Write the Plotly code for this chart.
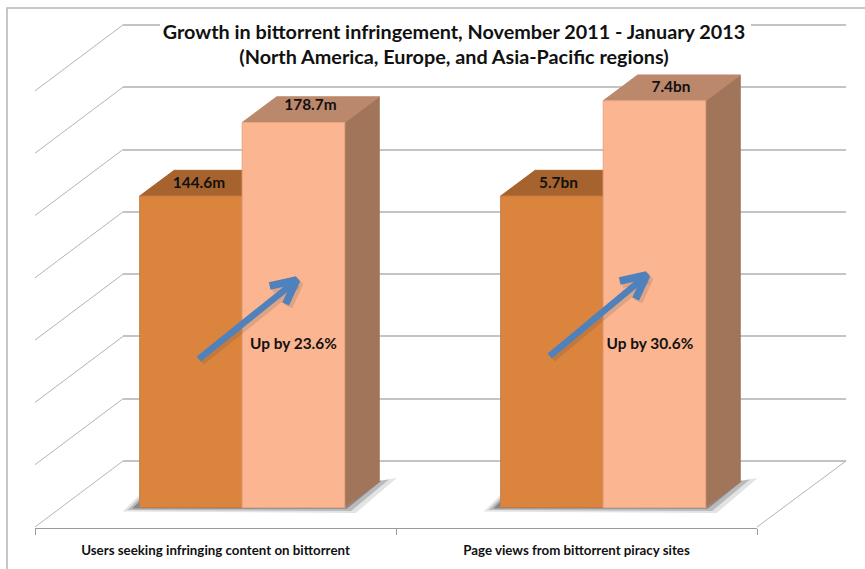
import plotly.graph_objects as go

W, H = 865, 569

# ---- data ----
categories = ["Users seeking infringing content on bittorrent", "Page views from bittorrent piracy sites"]
index_2011 = [100, 100]
growth_pct = [23.6, 30.6]
index_2013 = [100 + g for g in growth_pct]
labels_2011 = ["144.6m", "5.7bn"]
labels_2013 = ["178.7m", "7.4bn"]
wall_ticks = [0, 20, 40, 60, 80, 100, 120, 140]
title_lines = ["Growth in bittorrent infringement, November 2011 - January 2013",
               "(North America, Europe, and Asia-Pacific regions)"]

# ---- style / scene geometry ----
FONT = "Lato"
C1, C1_TOP, C1_SIDE = "#DB843D", "#A6632E", "#A6632E"
C2, C2_TOP, C2_SIDE = "#FBB590", "#BC886B", "#A0755A"
GRID = "#C4C4C4"
DIAG = "#B4B4B4"
UNIT_X, UNIT_Y = 361.0, 3.115          # pixels per category / per index point
ORG_X, ORG_Y = 61.7, 507.5             # pixel position of the bar-plane origin
GAP = 0.432
BAR_W = (1 - GAP) / 2
BAR_DX, BAR_DY = 34.5, 25.7            # bar depth in pixels
WALL_BACK_X, WALL_BACK_Y = 123.0, 461.0
WALL_FRONT_X, WALL_FRONT_Y = 35.0, 527.0
WALL_RIGHT_BACK_X, WALL_RIGHT_FRONT_X = 846.0, 757.0
WALL_PAD = 2                           # index points of spare axis beyond the wall ticks


def ux(px):
    return (px - ORG_X) / UNIT_X


def uy(py):
    return (ORG_Y - py) / UNIT_Y


def px_poly(points):
    return [ux(p[0]) for p in points], [uy(p[1]) for p in points]


x_range = [ux(0), ux(W)]
y_range = [uy(H), uy(0)]

fig = go.Figure()

# --- scene subplot: side wall diagonals, floor edge, shadows, bar depth faces (x3/y3)
def add_scene(xs, ys, **kw):
    fig.add_trace(go.Scatter(x=xs, y=ys, xaxis="x3", yaxis="y3", showlegend=False,
                             hoverinfo="skip", **kw))


for t in wall_ticks:
    yb = WALL_BACK_Y - t * UNIT_Y
    xs, ys = px_poly([(WALL_BACK_X, yb), (WALL_FRONT_X, yb + WALL_FRONT_Y - WALL_BACK_Y)])
    add_scene(xs, ys, mode="lines", line=dict(color=DIAG, width=1))
xs, ys = px_poly([(WALL_RIGHT_BACK_X, WALL_BACK_Y), (WALL_RIGHT_FRONT_X, WALL_FRONT_Y)])
add_scene(xs, ys, mode="lines", line=dict(color=DIAG, width=1))

centers = [i + 0.5 for i in range(len(categories))]

# shadows on the floor
for c in centers:
    L = ORG_X + (c - BAR_W) * UNIT_X
    R = ORG_X + (c + BAR_W) * UNIT_X
    for inset, alpha in [(0, 0.14), (3, 0.24), (6, 0.40)]:
        poly = [(L - 17 + inset * 1.6, 511.5 - inset * 0.5), (L, 495 + inset), (L, 508), (R, 508),
                (R + 34, 481), (R + 52 - inset * 2.5, 478 + inset * 0.4),
                (R + 11 - inset * 1.5, 513 - inset * 0.7), (L - 17 + inset * 1.6, 511.5 - inset * 0.5)]
        xs, ys = px_poly(poly)
        add_scene(xs, ys, mode="lines", line=dict(width=0), fill="toself",
                  fillcolor=f"rgba(60,60,60,{alpha})")

# depth faces of the bars
du, dv = BAR_DX / UNIT_X, BAR_DY / UNIT_Y
for vals, off, top_col, side_col in [(index_2011, -BAR_W, C1_TOP, C1_SIDE),
                                     (index_2013, 0.0, C2_TOP, C2_SIDE)]:
    for c, v in zip(centers, vals):
        x0, x1 = c + off, c + off + BAR_W
        add_scene([x1, x1 + du, x1 + du, x1, x1], [0, dv, v + dv, v, 0], mode="lines",
                  line=dict(color=side_col, width=1), fill="toself", fillcolor=side_col)
        add_scene([x0, x1, x1 + du, x0 + du, x0], [v, v, v + dv, v + dv, v], mode="lines",
                  line=dict(color=top_col, width=1), fill="toself", fillcolor=top_col)

# --- front faces (x4/y4)
fig.add_trace(go.Bar(name="November 2011", x=centers, y=index_2011, xaxis="x4", yaxis="y4",
                     marker=dict(color=C1, line=dict(color="#C27A45", width=1)), showlegend=False))
fig.add_trace(go.Bar(name="January 2013", x=centers, y=index_2013, xaxis="x4", yaxis="y4",
                     marker=dict(color=C2, line=dict(color="#E9A582", width=1)), showlegend=False))

# data labels on the top faces
label_font = dict(family=FONT, size=15.4, color="#111111", weight="bold")
off_low = [8.0, 6.5]
off_high = [17.0, 16.5]
lift_high = [16.5, 12.5]
fig.add_trace(go.Scatter(
    x=[c - BAR_W / 2 + o / UNIT_X for c, o in zip(centers, off_low)],
    y=[v + 12 / UNIT_Y for v in index_2011], text=labels_2011, mode="text",
    textfont=label_font, xaxis="x4", yaxis="y4", showlegend=False, cliponaxis=False))
fig.add_trace(go.Scatter(
    x=[c + BAR_W / 2 + o / UNIT_X for c, o in zip(centers, off_high)],
    y=[v + l / UNIT_Y for v, l in zip(index_2013, lift_high)], text=labels_2013, mode="text",
    textfont=label_font, xaxis="x4", yaxis="y4", showlegend=False, cliponaxis=False))

# growth arrows and captions
arrow_start = [(59, 359), (49, 356)]
arrow_tip = [(161, 277), (150, 272)]
for c, st, tp in zip(centers, arrow_start, arrow_tip):
    L = ORG_X + (c - BAR_W) * UNIT_X
    sx, sy = L + st[0], st[1]
    tx, ty = L + tp[0], tp[1]
    for off, col, w1, w2 in [(2.5, "rgba(70,70,70,0.16)", 8, 9), (0, "#4F81BD", 6.5, 7.5)]:
        for pts, w in (([(sx, sy), (tx - 6, ty + 5)], w1),
                       ([(tx - 31, ty + 9), (tx - 4, ty + 3), (tx - 15, ty + 27)], w2)):
            xs, ys = px_poly([(a + off, b + off) for a, b in pts])
            fig.add_trace(go.Scatter(x=xs, y=ys, mode="lines", xaxis="x4", yaxis="y4", showlegend=False,
                                     hoverinfo="skip",
                                     line=dict(color=col, width=w, simplify=False)))

caption_offsets = [0.0, -4.5]
fig.add_trace(go.Scatter(
    x=[c + BAR_W / 2 + o / UNIT_X for c, o in zip(centers, caption_offsets)],
    y=[uy(345)] * 2, text=[f"Up by {g}%" for g in growth_pct], mode="text",
    textfont=dict(family=FONT, size=15.4, color="#111111", weight="bold"),
    xaxis="x4", yaxis="y4", showlegend=False))

# --- invisible carriers so that the wall and front axis exist
fig.add_trace(go.Scatter(x=[0, 2], y=[0, 140], mode="markers", marker=dict(opacity=0),
                         xaxis="x", yaxis="y", showlegend=False, hoverinfo="skip"))
fig.add_trace(go.Scatter(x=[0, 2], y=[0, 1], mode="markers", marker=dict(opacity=0),
                         xaxis="x2", yaxis="y2", showlegend=False, hoverinfo="skip"))

hidden = dict(showgrid=False, zeroline=False, showticklabels=False, ticks="", showline=False)
wall_lo = -WALL_PAD
wall_hi = wall_ticks[-1] + WALL_PAD
fig.update_layout(
    width=W, height=H, autosize=False,
    margin=dict(l=0, r=0, t=0, b=0),
    paper_bgcolor="white", plot_bgcolor="rgba(0,0,0,0)",
    barmode="group", bargap=GAP, bargroupgap=0,
    showlegend=False,
    title=dict(text="<br>".join(title_lines), x=(163 + 745) / 2 / W, xanchor="center",
               y=1 - 38.5 / H, yanchor="middle",
               font=dict(family=FONT, size=19.8, color="#111111", weight="bold")),
    # back wall
    xaxis=dict(domain=[WALL_BACK_X / W, WALL_RIGHT_BACK_X / W], range=[0, 2], anchor="y", **hidden),
    yaxis=dict(domain=[1 - (WALL_BACK_Y - wall_lo * UNIT_Y) / H, 1 - (WALL_BACK_Y - wall_hi * UNIT_Y) / H],
               range=[wall_lo, wall_hi], anchor="x",
               showgrid=True, gridcolor=GRID, gridwidth=1.6, tickmode="array", tickvals=wall_ticks,
               zeroline=False, showticklabels=False, ticks="", showline=False),
    # front floor edge with category labels
    xaxis2=dict(domain=[WALL_FRONT_X / W, WALL_RIGHT_FRONT_X / W], range=[0, 2], anchor="y2",
                showgrid=False, zeroline=False, showline=True, linecolor="#9A9A9A", linewidth=1,
                tickmode="array", tickvals=centers, ticktext=categories, ticks="",
                ticklabelstandoff=10,
                tickfont=dict(family=FONT, size=13.3, color="#111111", weight="bold"),
                minor=dict(ticks="outside", tickmode="array", tickvals=[0, 1, 2], ticklen=6,
                           tickcolor="#9A9A9A", tickwidth=1, showgrid=False)),
    yaxis2=dict(domain=[1 - (WALL_FRONT_Y + 1) / H, 1 - WALL_FRONT_Y / H], range=[0, 1], anchor="x2", **hidden),
    # bar plane: depth faces
    xaxis3=dict(domain=[0, 1], range=x_range, anchor="y3", **hidden),
    yaxis3=dict(domain=[0, 1], range=y_range, anchor="x3", **hidden),
    # bar plane: front faces
    xaxis4=dict(domain=[0, 1], range=x_range, anchor="y4", **hidden),
    yaxis4=dict(domain=[0, 1], range=y_range, anchor="x4", **hidden),
    shapes=[
        # chart frame
        dict(type="rect", xref="paper", yref="paper", x0=7 / W, x1=1.02, y0=-0.02, y1=1 - 8 / H,
             line=dict(color="#B5B5B5", width=1.5), fillcolor="rgba(0,0,0,0)", layer="below"),
        # white title box over the top gridline
        dict(type="rect", xref="paper", yref="paper", x0=160 / W, x1=751 / W, y0=1 - 34 / H, y1=1 - 16 / H,
             line=dict(width=0), fillcolor="white", layer="above"),
    ],
)

fig.write_html("out.html", config=dict(displayModeBar=False),
               post_script="document.body.style.margin='0';document.documentElement.style.overflow='hidden';")
